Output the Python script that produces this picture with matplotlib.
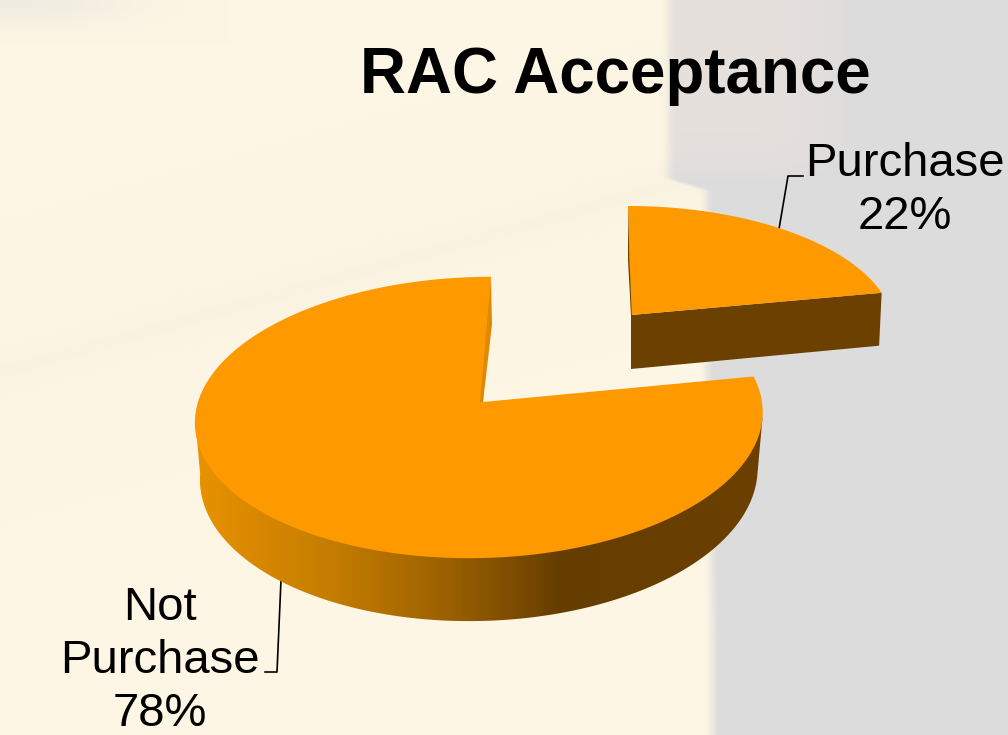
import numpy as np
import matplotlib
matplotlib.use("Agg")
import matplotlib.pyplot as plt
from matplotlib.patches import Polygon
from matplotlib.colors import to_rgb

categories = ["Purchase", "Not\nPurchase"]
shares = [22, 78]
title = "RAC Acceptance"

ORANGE = "#FF9900"
fig = plt.figure(figsize=(10.08, 7.35), dpi=100)
ax = fig.add_axes([0, 0, 1, 1])
ax.axis("off")


# soft photo-like background
def smooth(v, a, b):
    t = np.clip((v - a) / (b - a), 0, 1)
    return t * t * (3 - 2 * t)


gx, gy = np.meshgrid(np.arange(1008.0), np.arange(735.0))
cream = np.array(to_rgb("#FDF6E4"))
tan = np.array(to_rgb("#F7EFDE"))
shade = np.array(to_rgb("#E9E6E0"))
grey = np.array(to_rgb("#DCDCDC"))
pink = np.array(to_rgb("#E6E0DD"))
img = cream[None, None, :] * np.ones((735, 1008, 1))
# faint diagonal band across the wall
line = 372 - 0.28 * gx
band = (np.exp(-((gy - line) / 26.0) ** 2) * 0.45)[..., None]
img = img * (1 - band) + tan * band
corner = ((1 - smooth(gy, 2, 45)) * (1 - smooth(gx, 10, 230)) * 0.6)[..., None]
img = img * (1 - corner) + shade * corner
# grey building on the right, with a step near y = 185
edge = 668 + 38 * smooth(gy, 176, 192) + 6 * smooth(gy, 350, 650)
m = smooth(gx, edge - 8, edge + 8)[..., None]
tx = smooth(gx, 760, 880)
ty = smooth(gy, 130, 200)
tone = (tx + ty - tx * ty)[..., None]
right = pink * (1 - tone) + grey * tone
img = img * (1 - m) + right * m
ax.imshow(img, extent=(0, 1008, 735, 0), aspect="auto", zorder=0, interpolation="bilinear")


def project(theta, c, rx, a, k, shear, taper, drop=0.0):
    X, Y = np.sin(theta), np.cos(theta)
    d = 1 + k * Y
    s = taper if drop else 1.0
    return c[0] + s * rx * X / d + shear * Y, c[1] - a * Y / d + drop / d


stops_x = [195, 330, 450, 560, 762]
stops_c = ["#E89200", "#C57D00", "#9A6000", "#663D00", "#6B4000"]
frac = shares[0] / sum(shares) * 2 * np.pi

# large slice: everything but the first share
big = dict(c=(480, 402), rx=282, a=139, k=0.11, shear=11, taper=0.982)
apex_big = (483, 402)
depth_big = 56
th = np.linspace(frac, 2 * np.pi, 500)
xs, ys = project(th, **big)

# visible outer wall: between the side extremes of the ellipse
th_r = np.arccos(-big["k"])
th_l = 2 * np.pi - th_r
th_f = np.linspace(th_r, th_l, 300)
xb, yb = project(th_f, **big, drop=depth_big)
xr, yr = project(th_r, **big)
xl, yl = project(th_l, **big)
wall = Polygon(np.r_[[[xr, yr]], np.c_[xb, yb], [[xl, yl]]], fc="none", ec="none", transform=ax.transData)
ax.add_patch(wall)
ramp_x = np.linspace(190, 770, 580)
ramp = np.stack([np.interp(ramp_x, stops_x, [to_rgb(c)[i] for c in stops_c]) for i in range(3)], axis=-1)[None, :, :]
im = ax.imshow(ramp, extent=(190, 770, 640, 380), aspect="auto", zorder=1, interpolation="bilinear")
im.set_clip_path(wall)

ax.add_patch(Polygon(np.r_[np.c_[xs, ys], [apex_big]], fc=ORANGE, ec="none", zorder=2))
ex, ey = xs[-1], ys[-1]
ax.add_patch(Polygon([(ex, ey), (ex + 1, ey + 48), apex_big, (apex_big[0] - 3, apex_big[1])],
                     fc="#DE8A00", ec="none", zorder=2.5))

# exploded slice
small = dict(c=(631, 315), rx=261, a=121, k=0.11, shear=-3, taper=0.99)
depth_small = 54
th = np.linspace(0, frac, 120)
xs, ys = project(th, **small)
cx, cy = small["c"]
ex, ey = project(frac, **small)
exb, eyb = project(frac, **small, drop=depth_small)
ax.add_patch(Polygon([(cx, cy), (ex, ey), (exb, eyb), (cx, cy + depth_small)], fc="#6B4000", ec="none", zorder=3))
ax.add_patch(Polygon(np.r_[np.c_[xs, ys], [[cx, cy]]], fc=ORANGE, ec="none", zorder=4))
sx, sy = project(0.0, **small)
ax.add_patch(Polygon([(sx, sy), (sx, sy + 54), (cx, cy), (cx + 0.8, cy), (sx + 1.5, sy + 54)],
                     fc="#6B4000", ec="none", zorder=4.5))

# leaders
ax.plot([779, 788, 803], [229, 176, 176], color="black", lw=1.2, zorder=0.9)
ax.plot([281, 277, 265], [580, 672, 672], color="black", lw=1.2, zorder=0.9)

# text
font = "Liberation Sans"
ax.text(615, 76, title, ha="center", va="center", family=font, weight="bold", fontsize=45.8, zorder=6)
ax.text(905, 190.5, f"{categories[0]}\n{shares[0]}%", ha="center", va="center", family=font, fontsize=34,
        linespacing=1.27, zorder=6)
ax.text(160, 661, f"{categories[1]}\n{shares[1]}%", ha="center", va="center", family=font, fontsize=34,
        linespacing=1.27, zorder=6)

ax.set_xlim(0, 1008)
ax.set_ylim(735, 0)
fig.savefig("out.png", dpi=100)
